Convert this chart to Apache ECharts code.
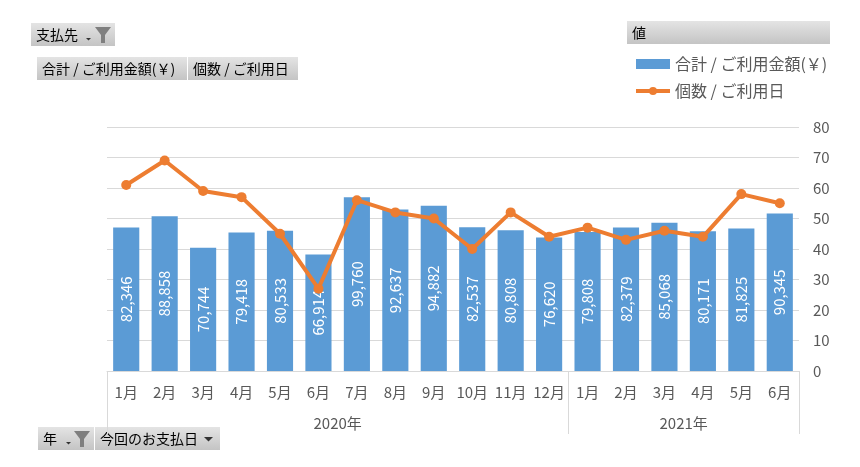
<!DOCTYPE html>
<html>
<head>
<meta charset="utf-8">
<title>ピボットグラフ</title>
<script src="https://cdn.jsdelivr.net/npm/echarts@6/dist/echarts.min.js"></script>
</head>
<body style="margin:0;background:#fff">
<div id="main" style="width:860px;height:467px;"></div>
<script type="text/javascript">
// 月ラベル（2020年1月〜2021年6月）
var months = ['1月','2月','3月','4月','5月','6月','7月','8月','9月','10月','11月','12月',
              '1月','2月','3月','4月','5月','6月'];
var years = ['2020年', '2021年'];
var yearMonthCounts = [12, 6];
// 合計 / ご利用金額(￥)
var amount = [82346, 88858, 70744, 79418, 80533, 66914, 99760, 92637, 94882, 82537, 80808, 76620,
              79808, 82379, 85068, 80171, 81825, 90345];
// 個数 / ご利用日
var count = [61, 69, 59, 57, 45, 27, 56, 52, 50, 40, 52, 44,
             47, 43, 46, 44, 58, 55];

// 年の区切り位置と中央位置
var yearBounds = [0], yearCenters = [];
yearMonthCounts.forEach(function (n, i) {
	var start = yearBounds[yearBounds.length - 1];
	yearCenters.push(start + n / 2);
	yearBounds.push(start + n);
});

var font = '"Noto Sans CJK JP", "Noto Sans", sans-serif';
var textGray = '#595959';
var lineGray = '#d9d9d9';

function btnFill() {
	return new echarts.graphic.LinearGradient(0, 0, 0, 1, [
		{ offset: 0, color: '#e4e4e4' },
		{ offset: 1, color: '#c4c4c4' }
	]);
}
function button(x, y, w, h, text) {
	return [
		{ type: 'rect', shape: { x: x, y: y, width: w, height: h }, style: { fill: btnFill() }, silent: true },
		{ type: 'text', x: x + 5, y: y + h / 2, style: { text: text, fill: '#000', font: '14px ' + font, verticalAlign: 'middle' }, silent: true }
	];
}
function funnel(x, y) {
	return { type: 'polygon', shape: { points: [[x, y], [x + 16, y], [x + 10, y + 8], [x + 10, y + 16], [x + 6, y + 16], [x + 6, y + 8]] }, style: { fill: '#7f7f7f' }, silent: true };
}
function arrow(x, y, s) {
	return { type: 'polygon', shape: { points: [[x, y], [x + s, y], [x + s / 2, y + s / 2]] }, style: { fill: '#333' }, silent: true };
}

var graphics = []
	.concat(button(31, 23, 84, 23, '支払先'))
	.concat([arrow(86, 38, 5), funnel(95, 27)])
	.concat(button(37, 57, 150, 23, '合計 / ご利用金額(￥)'))
	.concat(button(188, 57, 110, 23, '個数 / ご利用日'))
	.concat(button(627, 21, 203, 23, '値'))
	.concat(button(38, 427, 56, 23, '年'))
	.concat([arrow(66, 442, 5), funnel(74, 431)])
	.concat(button(95, 427, 125, 23, '今回のお支払日'))
	.concat([arrow(204, 437, 9)]);

var myChart = echarts.init(document.getElementById('main'));
myChart.setOption({
	animation: false,
	textStyle: { fontFamily: font },
	graphic: graphics,
	legend: {
		orient: 'vertical',
		left: 629,
		top: 51,
		itemWidth: 34,
		itemHeight: 10,
		itemGap: 11,
		textStyle: { color: textGray, fontSize: 16 },
		data: [
			{ name: '合計 / ご利用金額(￥)', icon: 'rect', itemStyle: { color: '#5b9bd5' } },
			{ name: '個数 / ご利用日', lineStyle: { width: 4 } }
		]
	},
	grid: { left: 107, right: 61, top: 127, bottom: 96, containLabel: false },
	xAxis: [{
		type: 'category',
		data: months,
		position: 'bottom',
		axisLine: { lineStyle: { color: lineGray } },
		axisTick: { show: false },
		axisLabel: { color: textGray, fontSize: 15, margin: 14, interval: 0 }
	}, {
		type: 'value',
		position: 'bottom',
		min: 0,
		max: yearBounds[yearBounds.length - 1],
		axisLine: { show: false },
		splitLine: { show: false },
		axisTick: { show: true, length: 63, customValues: yearBounds, lineStyle: { color: lineGray } },
		axisLabel: {
			color: textGray, fontSize: 15, margin: 45,
			customValues: yearCenters,
			formatter: function (v) { return years[yearCenters.indexOf(v)]; }
		}
	}],
	yAxis: [{
		type: 'value',
		min: 0,
		max: 140000,
		show: false
	}, {
		type: 'value',
		position: 'right',
		min: 0,
		max: 80,
		interval: 10,
		axisLine: { show: false },
		axisTick: { show: false },
		splitLine: { lineStyle: { color: lineGray } },
		axisLabel: { color: textGray, fontSize: 15, margin: 14 }
	}],
	series: [{
		name: '合計 / ご利用金額(￥)',
		type: 'bar',
		xAxisIndex: 0,
		yAxisIndex: 0,
		data: amount,
		barCategoryGap: '32%',
		itemStyle: { color: '#5b9bd5' },
		label: {
			show: true,
			position: 'inside',
			rotate: 90,
			color: '#fff',
			fontSize: 15,
			formatter: function (p) { return p.value.toLocaleString('en-US'); }
		},
		z: 2
	}, {
		name: '個数 / ご利用日',
		type: 'line',
		xAxisIndex: 0,
		yAxisIndex: 1,
		data: count,
		symbol: 'circle',
		symbolSize: 10,
		lineStyle: { color: '#ed7d31', width: 4 },
		itemStyle: { color: '#ed7d31' },
		z: 3
	}]
});
</script>
</body>
</html>
